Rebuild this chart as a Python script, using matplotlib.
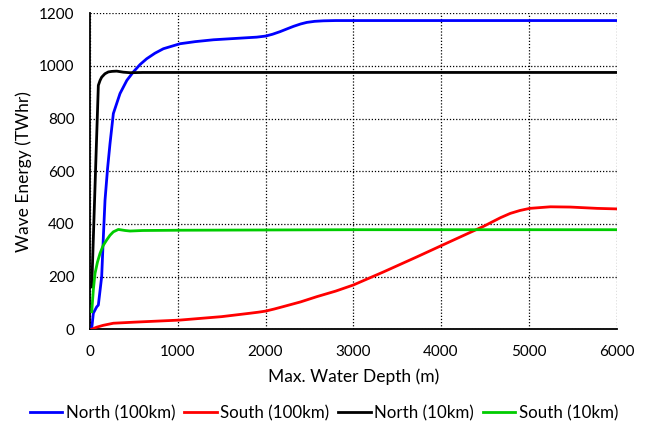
import matplotlib
matplotlib.use("Agg")
import matplotlib.pyplot as plt

plt.rcParams['font.family'] = ['Lato', 'DejaVu Sans']

# Data
north100_x = [20, 38, 76, 95, 133, 152, 171, 200, 228, 266, 342, 420, 494, 570, 646, 740, 836,
              1026, 1200, 1406, 1750, 1900, 2000, 2080, 2167, 2250, 2319, 2400, 2471, 2560, 2661,
              2800, 3000, 4000, 5000, 6000]
north100_y = [4, 61, 85, 92, 200, 350, 490, 610, 705, 819, 895, 945, 977, 1005, 1027, 1048, 1065,
              1084, 1092, 1099, 1106, 1109, 1113, 1120, 1130, 1141, 1150, 1159, 1165, 1169, 1171,
              1172, 1172, 1172, 1172, 1172]

south100_x = [20, 76, 150, 266, 500, 1026, 1500, 1825, 1920, 2000, 2100, 2201, 2400, 2586, 2800,
              3000, 3346, 3726, 4000, 4334, 4486, 4562, 4680, 4790, 4900, 5011, 5247, 5475,
              5780, 6000]
south100_y = [0, 8, 15, 23, 27, 35, 48, 61, 65, 69, 77, 86, 104, 124, 145,
              168, 218, 275, 317, 368, 391, 404, 424, 440, 451, 459, 465, 464,
              459, 457]

north10_x = [20, 57, 95, 115, 133, 170, 209, 250, 304, 380, 456, 600, 1000, 2000, 3000, 4000,
             5000, 6000]
north10_y = [161, 541, 926, 945, 957, 970, 977, 979, 980, 976, 974, 975, 975, 975, 975, 975,
             975, 975]

south10_x = [20, 38, 57, 85, 114, 150, 190, 228, 266, 323, 400, 456, 600, 1000, 2000, 3000,
             4000, 5000, 6000]
south10_y = [67, 150, 212, 255, 288, 318, 339, 357, 370, 379, 375, 373, 375, 376, 377, 378,
             378, 378, 378]

series_labels = ["North (100km)", "South (100km)", "North (10km)", "South (10km)"]
x_ticks = [0, 1000, 2000, 3000, 4000, 5000, 6000]
y_ticks = [0, 200, 400, 600, 800, 1000, 1200]

fig = plt.figure(figsize=(6.48, 4.25), dpi=100)
ax = fig.add_axes([0.1389, 0.2252, 0.9514 - 0.1389, 0.9690 - 0.2252])

lw = 2.0
ax.plot(north100_x, north100_y, color="#0000FF", lw=lw, label=series_labels[0], zorder=3)
ax.plot(south100_x, south100_y, color="#FF0000", lw=lw, label=series_labels[1], zorder=3)
ax.plot(north10_x, north10_y, color="#000000", lw=lw, label=series_labels[2], zorder=3)
ax.plot(south10_x, south10_y, color="#00CC00", lw=lw, label=series_labels[3], zorder=3)

ax.set_xlim(0, 6000)
ax.set_ylim(0, 1200)
ax.set_xticks(x_ticks)
ax.set_yticks(y_ticks)
ax.tick_params(axis='both', length=0, labelsize=11, pad=11)
ax.grid(True, color="black", linestyle=(0, (1, 1.5)), linewidth=0.9)
ax.set_axisbelow(True)

for s in ["top", "right"]:
    ax.spines[s].set_visible(False)
for s in ["left", "bottom"]:
    ax.spines[s].set_linewidth(1.3)
    ax.spines[s].set_color("black")

ax.set_xlabel("Max. Water Depth (m)", fontsize=12.5, labelpad=7)
ax.set_ylabel("Wave Energy (TWhr)", fontsize=12.5, labelpad=5)

fig.legend(loc="center", bbox_to_anchor=(0.5, 0.028), ncol=4, frameon=False,
           fontsize=12.2, handlelength=1.9, handletextpad=0.2, columnspacing=0.55)

fig.savefig("out.png", dpi=100)
